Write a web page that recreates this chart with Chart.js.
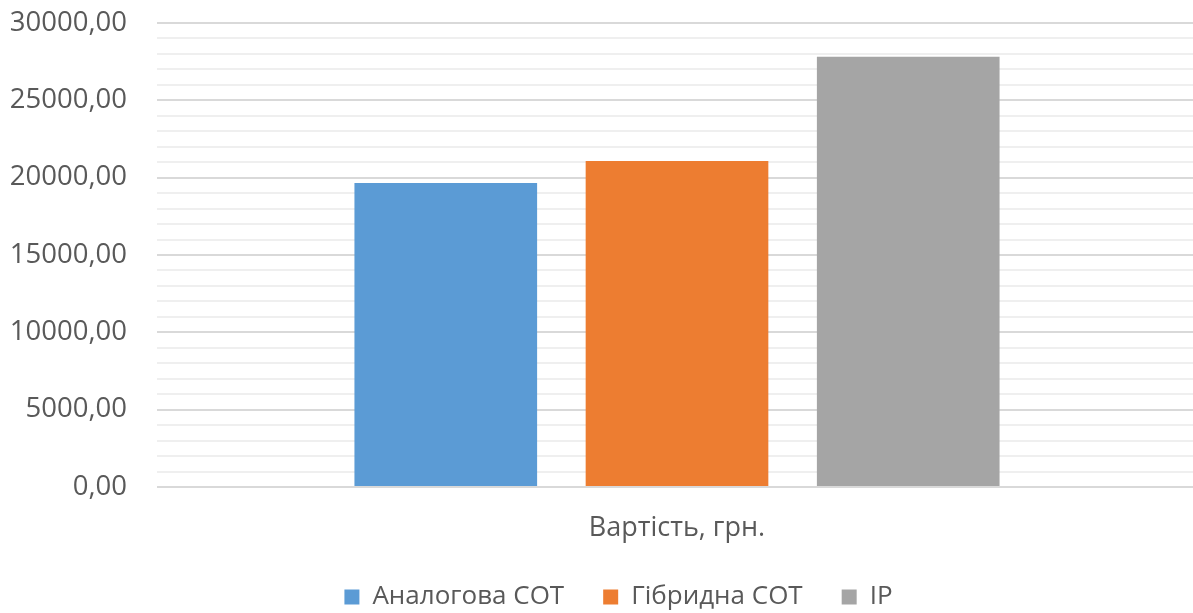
<!DOCTYPE html>
<html>
<head>
<meta charset="utf-8">
<script src="https://cdn.jsdelivr.net/npm/chart.js@4"></script>
<style>
  html, body { margin: 0; padding: 0; background: #ffffff; overflow: hidden; }
  #wrap { width: 1197px; height: 620px; position: relative; }
</style>
</head>
<body>
<div id="wrap"><canvas id="c"></canvas></div>
<script>
// Cost comparison of the three system variants
const categories = ['Вартість, грн.'];
const seriesNames = ['Аналогова СОТ', 'Гібридна СОТ', 'IP'];
const analogValues = [19650];
const hybridValues = [21080];
const ipValues = [27820];
const seriesColors = ['#5b9bd5', '#ed7d31', '#a5a5a5'];

const FONT = '"Open Sans", "Noto Sans", sans-serif';
const TEXT = '#595959';
const LEGEND_SHIFT = 20;

function fmt(v) {
  return v.toFixed(2).replace('.', ',');
}

// nudges the legend row sideways after layout
const legendOffset = {
  id: 'legendOffset',
  afterLayout(chart) {
    const lg = chart.legend;
    if (lg) {
      lg.left += LEGEND_SHIFT;
      lg.right += LEGEND_SHIFT;
    }
  }
};

new Chart(document.getElementById('c'), {
  type: 'bar',
  data: {
    labels: categories,
    datasets: [
      { label: seriesNames[0], data: analogValues, backgroundColor: seriesColors[0] },
      { label: seriesNames[1], data: hybridValues, backgroundColor: seriesColors[1] },
      { label: seriesNames[2], data: ipValues, backgroundColor: seriesColors[2] }
    ]
  },
  plugins: [legendOffset],
  options: {
    responsive: true,
    maintainAspectRatio: false,
    animation: false,
    categoryPercentage: 0.667,
    barPercentage: 0.79,
    layout: { padding: { top: 23, right: 0, bottom: 0, left: 0 } },
    plugins: {
      tooltip: { enabled: false },
      legend: {
        position: 'bottom',
        labels: {
          font: { family: FONT, size: 26 },
          color: TEXT,
          boxWidth: 15,
          boxHeight: 15,
          padding: 39
        }
      }
    },
    scales: {
      x: {
        grid: { display: false },
        border: { display: false },
        ticks: {
          font: { family: FONT, size: 27 },
          color: TEXT,
          padding: 17
        },
        afterFit: (s) => { s.height = 58; }
      },
      y: {
        min: 0,
        max: 30000,
        border: { display: false },
        grid: {
          color: (ctx) => (ctx.tick && ctx.tick.value % 5000 === 0) ? '#d9d9d9' : '#efefef',
          lineWidth: 2,
          drawTicks: false
        },
        ticks: {
          stepSize: 1000,
          autoSkip: false,
          font: { family: FONT, size: 27.5 },
          color: TEXT,
          padding: 30,
          callback: (v) => (v % 5000 === 0 ? fmt(v) : '')
        },
        afterFit: (s) => {
          s.width = 157;
          s.paddingTop = 0;
          s.paddingBottom = 0;
        }
      }
    }
  }
});
</script>
</body>
</html>
